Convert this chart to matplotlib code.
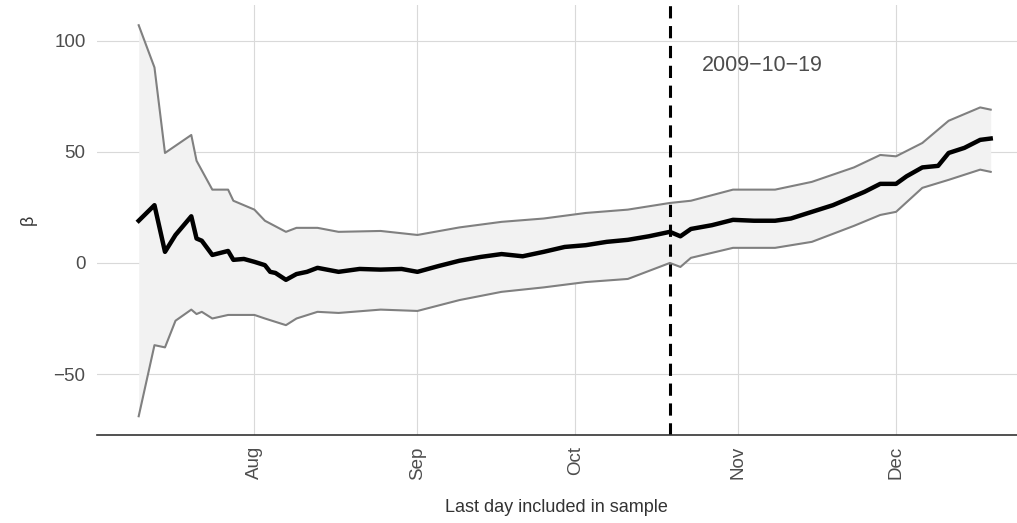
import matplotlib
matplotlib.use("Agg")
import matplotlib.pyplot as plt
import matplotlib.dates as mdates
import numpy as np

plt.rcParams['font.family'] = ['Liberation Sans', 'DejaVu Sans']

mean_dates = ["2009-07-10","2009-07-13","2009-07-15","2009-07-17","2009-07-20","2009-07-21","2009-07-22","2009-07-24","2009-07-27","2009-07-28","2009-07-30","2009-08-01","2009-08-03","2009-08-04","2009-08-05","2009-08-07","2009-08-09","2009-08-11","2009-08-13","2009-08-17","2009-08-21","2009-08-25","2009-08-29","2009-09-01","2009-09-05","2009-09-09","2009-09-13","2009-09-17","2009-09-21","2009-09-25","2009-09-29","2009-10-03","2009-10-07","2009-10-11","2009-10-15","2009-10-19","2009-10-21","2009-10-23","2009-10-27","2009-10-31","2009-11-04","2009-11-08","2009-11-11","2009-11-15","2009-11-19","2009-11-23","2009-11-25","2009-11-28","2009-12-01","2009-12-03","2009-12-06","2009-12-09","2009-12-11","2009-12-14","2009-12-17","2009-12-19"]
mean_vals = [19,26,5,12.6,21,11,10,3.6,5.4,1.4,1.8,0.5,-1,-4,-4.5,-7.6,-5,-4,-2.2,-4,-2.7,-3,-2.7,-4,-1.4,1,2.7,4,3,5,7.2,8,9.5,10.4,12,14,12,15.3,17,19.4,19,19,20,23,26,30,32,35.6,35.6,39,43,43.7,49.5,51.8,55.4,56]

upper_dates = ["2009-07-10","2009-07-13","2009-07-15","2009-07-20","2009-07-21","2009-07-24","2009-07-27","2009-07-28","2009-08-01","2009-08-03","2009-08-07","2009-08-09","2009-08-13","2009-08-17","2009-08-25","2009-09-01","2009-09-09","2009-09-17","2009-09-25","2009-10-03","2009-10-11","2009-10-19","2009-10-23","2009-10-31","2009-11-08","2009-11-15","2009-11-23","2009-11-28","2009-12-01","2009-12-06","2009-12-11","2009-12-17","2009-12-19"]
upper_vals = [107,88,49.5,57.6,46,33,33,28,24,19,14,15.8,15.8,14,14.4,12.6,16,18.5,20,22.5,24,27,28,33,33,36.5,43,48.6,48,54,64,70,69]

lower_dates = ["2009-07-10","2009-07-13","2009-07-15","2009-07-17","2009-07-20","2009-07-21","2009-07-22","2009-07-24","2009-07-27","2009-08-01","2009-08-03","2009-08-07","2009-08-09","2009-08-13","2009-08-17","2009-08-25","2009-09-01","2009-09-09","2009-09-17","2009-09-25","2009-10-03","2009-10-11","2009-10-19","2009-10-21","2009-10-23","2009-10-31","2009-11-08","2009-11-15","2009-11-23","2009-11-28","2009-12-01","2009-12-06","2009-12-11","2009-12-17","2009-12-19"]
lower_vals = [-69,-37,-38,-26,-21,-23,-22,-25,-23.4,-23.4,-25,-28,-25,-22,-22.5,-21,-21.6,-16.7,-13,-11,-8.6,-7.2,0,-1.8,2.3,6.8,6.8,9.5,16.7,21.6,23,33.8,37.4,42,41]

event_date = "2009-10-19"
event_label = "2009\u221210\u221219"

md = np.array(mean_dates, dtype="datetime64[D]")
ud = np.array(upper_dates, dtype="datetime64[D]")
ld = np.array(lower_dates, dtype="datetime64[D]")

fig = plt.figure(figsize=(10.17, 5.23), dpi=100)
ax = fig.add_axes([0.095, 0.168, 0.905, 0.822])

allx = np.union1d(ud, ld).astype("datetime64[D]")
xf = allx.astype(float)
uf = np.interp(xf, ud.astype(float), upper_vals)
lf = np.interp(xf, ld.astype(float), lower_vals)
ax.fill_between(allx, lf, uf, color="#f2f2f2", lw=0)
ax.plot(ud, upper_vals, color="#808080", lw=1.5)
ax.plot(ld, lower_vals, color="#808080", lw=1.5)
ax.plot(md, mean_vals, color="black", lw=3.2)
ax.axvline(np.datetime64(event_date), color="black", ls=(0, (4, 2.5)), lw=2.2)
ax.text(np.datetime64("2009-10-25"), 89, event_label, fontsize=15.5, color="#4d4d4d",
        ha="left", va="center")

ax.set_ylim(-77.5, 116)
ax.set_yticks([-50, 0, 50, 100])
ax.set_yticklabels(["\u221250", "0", "50", "100"])
ax.xaxis.set_major_locator(mdates.MonthLocator())
ax.xaxis.set_major_formatter(mdates.DateFormatter("%b"))
for lab in ax.get_xticklabels():
    lab.set_rotation(90)
ax.tick_params(axis="both", labelsize=13.5, colors="#4d4d4d", length=0, pad=8)
ax.grid(True, color="#d9d9d9", lw=0.8)
ax.set_axisbelow(True)
for s in ["top", "right", "left"]:
    ax.spines[s].set_visible(False)
ax.spines["bottom"].set_color("#333333")
ax.spines["bottom"].set_linewidth(1.2)
ax.set_xlabel("Last day included in sample", fontsize=13, color="#333333", labelpad=14)
ax.set_ylabel("\u03b2", fontsize=13, color="#333333", labelpad=12)
ax.set_xlim(np.datetime64("2009-07-02"), np.datetime64("2009-12-24"))
fig.savefig("out.png", dpi=100, facecolor="white")
